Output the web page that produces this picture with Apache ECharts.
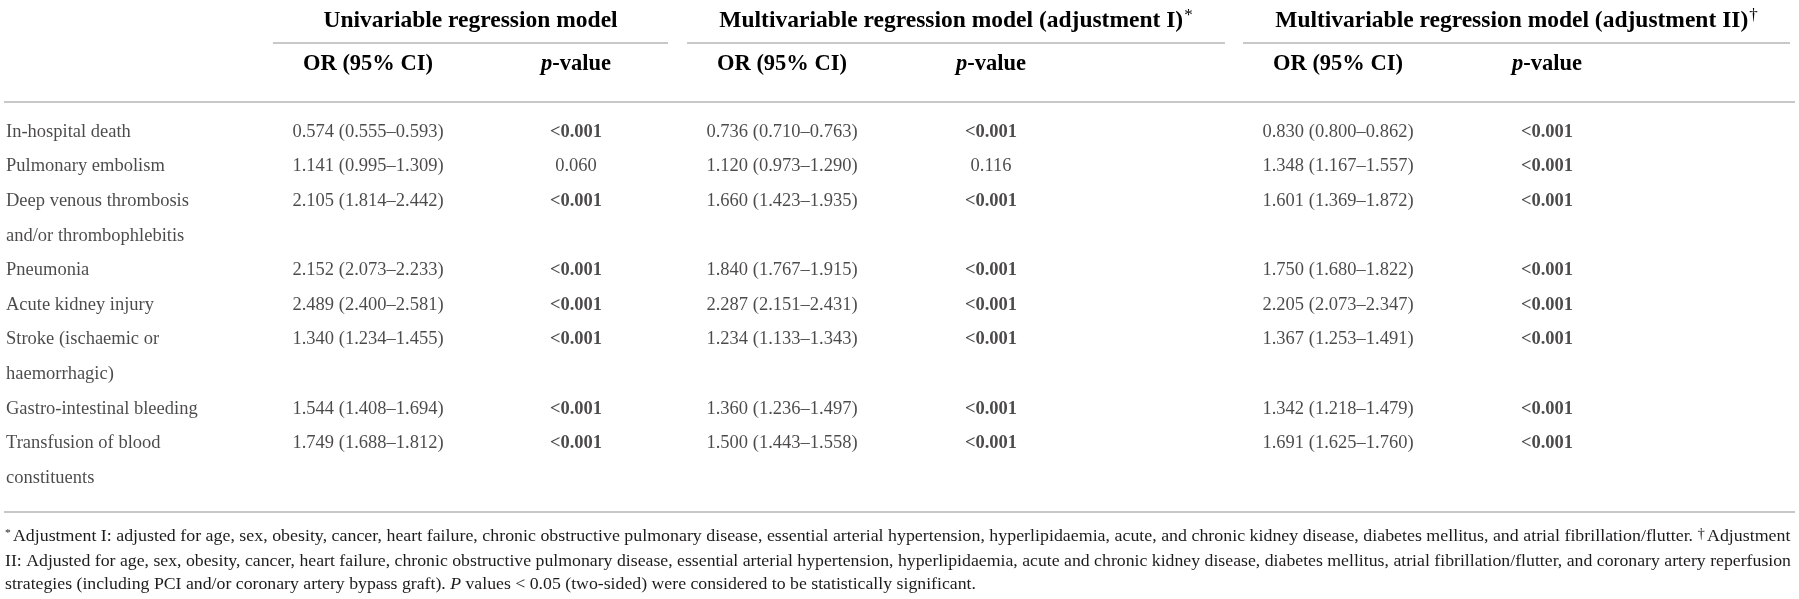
<!DOCTYPE html>
<html>
<head>
<meta charset="utf-8">
<script src="https://cdn.jsdelivr.net/npm/echarts@6/dist/echarts.min.js"></script>
<style>
  html, body { margin: 0; padding: 0; background: #fff; }
  #main { width: 1799px; height: 599px; }
</style>
</head>
<body>
<div id="main"></div>
<script>
// rows of the table (a "\n" marks where the label wraps onto a second line)
var outcomes = [
    'In-hospital death',
    'Pulmonary embolism',
    'Deep venous thrombosis\nand/or thrombophlebitis',
    'Pneumonia',
    'Acute kidney injury',
    'Stroke (ischaemic or\nhaemorrhagic)',
    'Gastro-intestinal bleeding',
    'Transfusion of blood\nconstituents'
];

// univariable regression model
var orUni = ['0.574 (0.555–0.593)', '1.141 (0.995–1.309)', '2.105 (1.814–2.442)', '2.152 (2.073–2.233)',
    '2.489 (2.400–2.581)', '1.340 (1.234–1.455)', '1.544 (1.408–1.694)', '1.749 (1.688–1.812)'];
var pUni = ['<0.001', '0.060', '<0.001', '<0.001', '<0.001', '<0.001', '<0.001', '<0.001'];

// multivariable model, adjustment I
var orAdj1 = ['0.736 (0.710–0.763)', '1.120 (0.973–1.290)', '1.660 (1.423–1.935)', '1.840 (1.767–1.915)',
    '2.287 (2.151–2.431)', '1.234 (1.133–1.343)', '1.360 (1.236–1.497)', '1.500 (1.443–1.558)'];
var pAdj1 = ['<0.001', '0.116', '<0.001', '<0.001', '<0.001', '<0.001', '<0.001', '<0.001'];

// multivariable model, adjustment II
var orAdj2 = ['0.830 (0.800–0.862)', '1.348 (1.167–1.557)', '1.601 (1.369–1.872)', '1.750 (1.680–1.822)',
    '2.205 (2.073–2.347)', '1.367 (1.253–1.491)', '1.342 (1.218–1.479)', '1.691 (1.625–1.760)'];
var pAdj2 = ['<0.001', '<0.001', '<0.001', '<0.001', '<0.001', '<0.001', '<0.001', '<0.001'];

var groupTitles = [
    '{g|Univariable regression model}',
    '{g|Multivariable regression model (adjustment I)}{sup|*}',
    '{g|Multivariable regression model (adjustment II)}{sup|†}'
];
var subTitles = ['{b|OR (95% CI)}', '{pi|p}{b|-value}'];

var footnotes = [
    '{sup|*}Adjustment I: adjusted for age, sex, obesity, cancer, heart failure, chronic obstructive pulmonary disease, essential arterial hypertension, hyperlipidaemia, acute, and chronic kidney disease, diabetes mellitus, and atrial fibrillation/flutter. {dag|†}Adjustment',
    'II: Adjusted for age, sex, obesity, cancer, heart failure, chronic obstructive pulmonary disease, essential arterial hypertension, hyperlipidaemia, acute and chronic kidney disease, diabetes mellitus, atrial fibrillation/flutter, and coronary artery reperfusion',
    'strategies (including PCI and/or coronary artery bypass graft). {it|P} values < 0.05 (two-sided) were considered to be statistically significant.'
];

// ---- layout ----
var FONT = '"Liberation Serif", "DejaVu Serif", serif';
var TEXT = '#1e1b1c';
var RULE = '#c8c8c8';
var ROW_H = 34.6;
var FIRST_ROW = 132;
var NSLOTS = 11;
var labelX = 6;
var colX = [368, 576, 782, 991, 1338, 1547];     // OR / p centres for each model
var groupSpan = [[273, 668], [687, 1225], [1243, 1790]];

// each outcome starts on the line after the previous one's last line
var slots = [];
var s = 0;
outcomes.forEach(function (o) {
    slots.push(s);
    s += o.split('\n').length;
});

var chart = echarts.init(document.getElementById('main'), null, {renderer: 'canvas'});

function cellSeries(name, x, values, boldFn) {
    return {
        name: name,
        type: 'scatter',
        symbolSize: 0,
        silent: true,
        data: values.map(function (v, i) {
            return {
                value: [x, slots[i]],
                label: {fontWeight: boldFn && boldFn(v) ? 'bold' : 'normal'}
            };
        }),
        label: {
            show: true,
            position: 'inside',
            color: TEXT,
            fontFamily: FONT,
            fontSize: 18.5,
            formatter: function (p) { return values[p.dataIndex]; }
        }
    };
}

function isSig(v) { return v.charAt(0) === '<'; }

var series = [{
    name: 'outcome',
    type: 'scatter',
    symbolSize: 0,
    silent: true,
    data: outcomes.map(function (o, i) {
        return [labelX, slots[i] + (o.split('\n').length - 1) / 2];
    }),
    label: {
        show: true,
        position: 'right',
        distance: 0,
        align: 'left',
        color: TEXT,
        fontFamily: FONT,
        fontSize: 18.5,
        lineHeight: ROW_H,
        formatter: function (p) { return outcomes[p.dataIndex]; }
    }
},
    cellSeries('orUni', colX[0], orUni),
    cellSeries('pUni', colX[1], pUni, isSig),
    cellSeries('orAdj1', colX[2], orAdj1),
    cellSeries('pAdj1', colX[3], pAdj1, isSig),
    cellSeries('orAdj2', colX[4], orAdj2),
    cellSeries('pAdj2', colX[5], pAdj2, isSig)
];

var headRich = {
    g: {fontFamily: FONT, fontWeight: 'bold', fontSize: 23.5, color: TEXT, lineHeight: 28},
    b: {fontFamily: FONT, fontWeight: 'bold', fontSize: 22.5, color: TEXT, lineHeight: 28},
    pi: {fontFamily: FONT, fontWeight: 'bold', fontStyle: 'italic', fontSize: 22.5, color: TEXT, lineHeight: 28},
    sup: {fontFamily: FONT, fontSize: 17, color: TEXT, lineHeight: 28, verticalAlign: 'top', padding: [0, 0, 10, 1]}
};

// measure footnote width so the two justified lines fill the table width
var FOOT_SIZE = 17;
var ctx = document.createElement('canvas').getContext('2d');
ctx.font = FOOT_SIZE + 'px ' + FONT;
function plain(t) { return t.replace(/\{\w+\|([^}]*)\}/g, '$1'); }
var footW = 1786;
var footScale = footnotes.map(function (t) { return footW / ctx.measureText(plain(t)).width; });
footScale[2] = footScale[1];

var footRich = {
    sup: {fontFamily: FONT, fontSize: 11, color: TEXT, verticalAlign: 'top', lineHeight: 19, padding: [0, 2, 8, 0]},
    dag: {fontFamily: FONT, fontSize: 14, color: TEXT, verticalAlign: 'top', lineHeight: 19, padding: [0, 2, 6, 0]},
    it: {fontFamily: FONT, fontStyle: 'italic', fontSize: FOOT_SIZE, color: TEXT, lineHeight: 19}
};

var graphic = [];
// horizontal rules
graphic.push({type: 'line', shape: {x1: 4, y1: 102, x2: 1795, y2: 102}, style: {stroke: RULE, lineWidth: 2}});
graphic.push({type: 'line', shape: {x1: 4, y1: 512, x2: 1795, y2: 512}, style: {stroke: RULE, lineWidth: 2}});
groupSpan.forEach(function (g, i) {
    graphic.push({type: 'line', shape: {x1: g[0], y1: 43, x2: g[1], y2: 43}, style: {stroke: RULE, lineWidth: 2}});
    graphic.push({
        type: 'text', x: (g[0] + g[1]) / 2, y: 21,
        style: {text: groupTitles[i], rich: headRich, align: 'center', verticalAlign: 'middle'}
    });
});
colX.forEach(function (x, i) {
    graphic.push({
        type: 'text', x: x, y: 64,
        style: {text: subTitles[i % 2], rich: headRich, align: 'center', verticalAlign: 'middle'}
    });
});
var footY = [537, 562, 585];
footnotes.forEach(function (t, i) {
    graphic.push({
        type: 'text', x: 5, y: footY[i], scaleX: footScale[i],
        style: {
            text: t, rich: footRich, fontFamily: FONT, fontSize: FOOT_SIZE, fill: TEXT,
            align: 'left', verticalAlign: 'middle'
        }
    });
});

chart.setOption({
    animation: false,
    grid: {
        left: 0, right: 0,
        top: FIRST_ROW - ROW_H / 2,
        height: ROW_H * NSLOTS
    },
    xAxis: {type: 'value', min: 0, max: 1799, show: false},
    yAxis: {type: 'value', inverse: true, min: -0.5, max: NSLOTS - 0.5, show: false},
    series: series,
    graphic: graphic
});
</script>
</body>
</html>
